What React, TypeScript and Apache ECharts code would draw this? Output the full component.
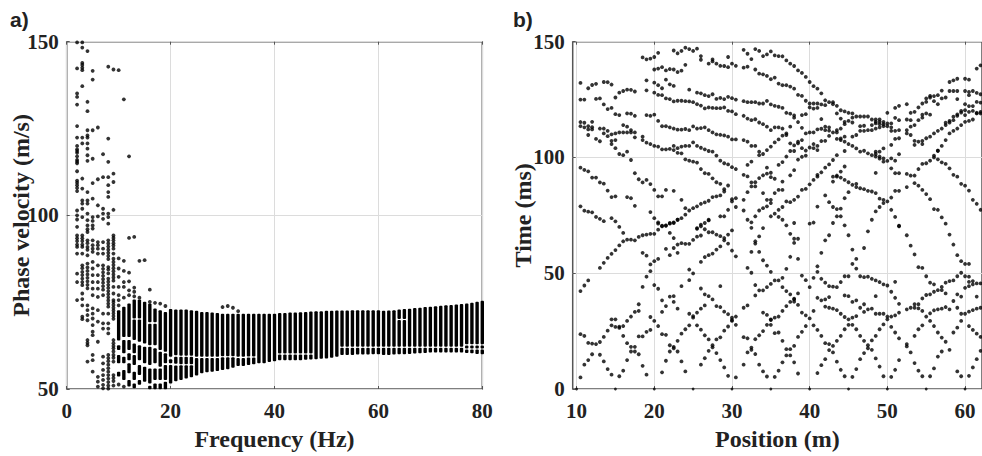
import React, { useEffect, useRef } from "react";
import * as echarts from "echarts";

// ---------- Panel a: sparse phase-velocity picks, one list per frequency (Hz) ----------
const sparse2Hz = [149.8,142.3,135.1,134.1,131.9,125.7,122.4,120,119,118.5,118,117,116,115.5,115,112.7,110,109.4,108.7,107.9,107,101.4,100,98.8,96.7,94.2,93.4,92.6,91.6,90.9,89,83.2,80.8,75.6];
const sparse3Hz = [149.8,148.3,143.9,143.3,142.5,141.8,137.2,122.4,120.7,110.6,107.7,104.3,103.4,101.9,99.5,94.2,93.4,92.6,91.6,90.9,89,85.6,84.8,83.7,82.8,81.8,80.8,79.9,77.5,75.9,74.1,70.8,70.1];
const sparse4Hz = [147.3,132.7,130,124.5,123,122.4,120.7,119.2,117.3,115.7,106.7,104.3,103.4,100.5,98.6,97.1,96,95.2,92.8,92,90.9,90.1,88.5,86.1,85,84,83,82,81,80,79,74.1,72.7,71.3,69.8,64.1,63.3,62.6,57.9];
const sparse5Hz = [141.6,139.1,124.5,116.3,109.3,104.8,99.5,98.4,97.1,96.2,92.8,91.4,90.4,89.5,86.6,84.7,82.8,80.8,78.9,77,73.2,71.7,70.3,68.4,66.5,65.5,59.8,58.3,55];
const sparse6Hz = [125.3,110.4,102.9,99.7,92.3,91.4,90.4,89,85.6,82.8,80.8,78.9,76.5,72.7,69.4,63.6,53.5,52.1,50.7];
const sparse7Hz = [117.6,111,101.9,100.5,99,92.3,90.4,89,85.6,84.6,83.6,82.6,81.6,80.6,79.6,78.6,77,71.7,68.9,67.4,59.3,57.4,55.5,54,52.6,51.2,50.2];
const sparse8Hz = [142.8,122.1,115.4,111,108.7,106.7,105.3,100.5,99.5,97.6,92.8,91.9,91,90.1,89.2,88.3,87.4,85.1,84.4,83.3,81.8,80.9,80,79.1,78.2,77.3,76.4,75.5,74.6,73.7,71.7,68.9,67.4,66,59.8,58.9,58,57,56,55,54,53,52,51,50.1];
const sparse9Hz = [142,112,109.6,101.6,94.2,93.5,92.8,92,91.3,90.4,89,87.5,86.6,85.7,84.8,83.9,83,82.1,81.2,79.4,77.5,75.6,75,74.2,73.4,72.6,71.8,71,70.2,64.1,63.2,62.4,61.7,60.8,59.8,59,57.9,54,53.2,52.3,51];
const sparse10Hz = [141.8,87.6,84.7,82.3,79.4,77,75.6,74.1,51.3];
const sparse11Hz = [133.4,86.9,84,80.8,79.4,76.3,50.7];
const sparse12Hz = [117,93.5,83.5,81,78.4,77];
const sparse13Hz = [93.8,79.2,78,76.7];
const sparse14Hz = [86.9,76.3];
const sparse15Hz = [87.1];
const sparse16Hz = [78.6,75.1];
const sparse17Hz = [74.8];
const sparse18Hz = [74.6];
const sparse19Hz = [73.9];
const sparse30Hz = [73.6];
const sparse31Hz = [73.9];
const sparse32Hz = [73.4];
const sparse33Hz = [72.4];

// ---------- Panel a: solid pick bands, 10-21 Hz read column by column: [Hz, low, high] ----------
const lowBandColumns = [
  [10,64,72.7],[10,61.2,62.6],[10,57.4,59.8],[10,53.6,55],
  [11,65,73.7],[11,60.3,64.1],[11,57.4,59.3],[11,52.6,55.5],
  [12,65,74.6],[12,61.2,64.1],[12,58.3,60.3],[12,54.5,57.4],[12,50.7,52.6],
  [13,70.3,75.8],[13,64.1,70],[13,60.3,63.1],[13,56.9,59.8],[13,52.6,55],[13,50.2,51.6],
  [14,70.3,75.8],[14,63.6,70],[14,58.3,62.6],[14,54,56.9],[14,51.2,52.6],
  [15,63.1,75.1],[15,57.4,62.2],[15,52.1,56.4],
  [16,69.2,74.6],[16,62.6,68.8],[16,56.9,62.2],[16,51.6,55.9],[16,49.9,50.9],
  [17,69.2,73.2],[17,62.6,68.8],[17,57.4,61.7],[17,52.6,55.9],[17,49.9,51.6],
  [18,61.2,72.7],[18,56.4,60.7],[18,52.6,55.9],[18,49.9,51.6],
  [19,60.7,72.2],[19,57.4,60.3],[19,52.6,56.9],[19,49.9,52.1],
  [20,59.3,73],[20,57.4,58.6],[20,51.6,56.9],
  [21,59.7,72.9],[21,57.3,59.3],[21,52.2,56.8],
];

// ---------- Panel a: solid pick bands, 22-80 Hz ----------
const bandFrequency = [22,23,24,25,26,27,28,29,30,31,32,33,34,35,36,37,38,39,40,41,42,43,44,45,46,47,48,49,50,51,52,53,54,55,56,57,58,59,60,61,62,63,64,65,66,67,68,69,70,71,72,73,74,75,76,77,78,79,80];
const bandTop = [72.9,72.9,72.7,72.5,72.2,72.2,72,71.9,71.7,71.7,71.7,71.7,71.7,71.7,71.7,71.7,71.7,71.7,71.7,71.9,71.9,72,72,72.1,72.2,72.3,72.4,72.4,72.5,72.5,72.6,72.6,72.6,72.7,72.7,72.7,72.7,72.7,72.7,72.5,72.6,72.7,72.9,73,73.1,73.3,73.4,73.6,73.7,73.8,74,74.1,74.2,74.3,74.5,74.6,74.8,75.1,75.4];
const bandBottom = [52.6,53,53.4,53.9,54.5,54.8,55,55.2,55.5,55.7,56.1,56.6,56.6,56.9,57.1,57.4,57.4,57.8,58,58.3,58.3,58.3,58.3,58.3,58.4,58.5,58.6,58.7,58.8,59,59.3,59.8,59.8,59.8,59.9,59.9,59.9,60,60,59.8,59.8,59.9,60,60,60.1,60.2,60.3,60.4,60.5,60.5,60.5,60.5,60.5,60.5,60.5,60.4,60.3,60.1,60];
// thin white breaks in the band: [Hz, velocity]
const bandBreaks = [
  [22,59.4],[22,57],[23,59.4],[23,57],[24,59.4],[24,57],[25,59.1],[26,59.1],[27,59.1],[28,59.1],[29,59.1],[30,59.3],[31,59.3],[32,59.3],[33,59.1],[34,59.1],[35,59.2],[36,59.2],
  [41,60.1],[42,60.1],[43,60.1],[44,60.1],[45,60.1],[46,60.1],[47,60.1],
  [53,62],[54,62],[55,62],[56,62],[57,62],[58,62],[59,62],[60,62],[61,62],[62,62],[63,62],[64,70],[64,62],[65,70],[65,62],[66,62],[67,62],[68,62],[69,62],[70,62],[71,62],[72,62],[73,62],[74,62],[75,62],[76,62],
  [77,61.5],[77,62.7],[78,61.5],[78,62.7],[79,61.5],[79,62.7],[80,61.5],[80,62.7],
];

// ---------- Panel b: travel-time picks, [position m, time ms] ----------
const picksTopLeft = [
  [10.5,132.2],[10.5,125],[11,125],[11.5,129.9],[12,131.3],[12.5,131.8],[13.5,132.6],[14,132.5],[14.5,131.5],[15,125.9],[15.5,128],[16,128.7],[16.5,129.3],[17,129.2],[17.5,128.5],
  [12.5,125.3],[13,125.5],[13.5,122.9],[14,120.9],[14.5,121.4],[15,118.7],[15.5,118.3],[16.5,119],[17,118.9],[17.5,118],
  [10.5,115.3],[10.5,113.5],[11,115],[11,113],[11.5,113.5],[11.5,112.1],[11.5,109.7],[12,115.4],[12,113.1],[12,112.1],[12.5,108],[13,112.5],[13,107],[13.5,112.5],[13.5,110.4],[14,111.5],[14,109.2],[14.5,110],[14.5,107.2],[14.5,105.8],[15,110.4],[15,107.5],[15,104],[15.5,110.8],[15.5,101.5],[16,114],[16,110.8],[16,101],[16.5,113.3],[16.5,110.8],[16.5,102.5],[17,111.8],[17,110.8],[17,98.9],[17.5,110.8],[17.5,108.7],
  [18.5,109],[18.5,107.5],[19,106.4],[19.5,105.8],[20,105],[20.5,104.7],[21,103.5],[21.5,103.5],[22,103.7],[22.5,105],[22.5,103.2],[23,104],[23,102],[23.5,104.7],[23.5,101.8],[24,105],[24.5,105],[25,106.5],[25.5,105],[26,104.2],[26.5,103.5],[27,102.8],[27.5,102.5],[28,100.8],[28.5,98.6],[29,97.5],[29.5,97],[30,95.8],[30.5,95],
  [24,99.2],[24.5,98.6],[25,98.2],[25.5,97.8],[26,95],[26.5,93.2],[27,92.9],[27.5,91],[28,89.3],[28.5,88.6],[29.5,87.9],
  [20.5,115.8],[21,113.5],[21.5,113.5],[22,113],[22.5,112.5],[23,112],[23.5,112],[24,112.3],[24.5,111.8],[25,113.4],[25.5,112.5],[26,112.7],[26.5,113],[27,111.8],[27.5,110.8],[28,110],[28.5,109.8],[29,109.5],[29.5,109],[30,107.8],[30.5,107.8],
  [19,118.3],[19.5,118],[20,118.5],[19,133.3],[19,129],[20,132.3],[20.5,131.2],[21,129.9],[20,128],[20.5,127],[21,126.9],[21.5,125.5],[22,125.2],[22.5,124.2],[23,124.5],[23.5,124.5],[24,124.3],[24.5,124.2],[25,123.9],[25.5,123],[26,122.4],[26.5,121.2],[27,121.6],[27.5,121.4],[28,121.3],[28.5,121.3],[29,121.6],[29.5,120.1],[30,119.9],[30.5,118.7],
  [21.5,133.6],[22,131.6],[22.5,130.9],[24.5,129.3],[25.5,128],[26,127.7],[26.5,126.9],[27,126.5],[27.5,127.3],[28,125.3],[28.5,125.7],[29,125.2],[29.5,126.2],[30,125.6],[30.5,125],
  [18.5,143.2],[19,142.4],[19.5,142.7],[20,143.4],[20.5,145.2],[20,138],[20.5,138.4],[21,139],[21.5,137.6],[22,138.2],[22.5,138],[23,136.9],[23.5,137.5],[24,140],
  [22.5,146.2],[23,145],[23.5,146],[24,147.4],[24.5,146.8],[25,146],[25.5,147],[26,143.8],[26,142.2],[27,140.5],[27.5,142.4],[27.5,141.5],[28,140.5],[28.5,139.6],[29,139.5],[29.5,143.4],[29.5,139],[30,140.5],[30.5,139.6],
  [10.5,95.6],[11,94.6],[11.5,94],[12,91.3],[12.5,91.3],[13,89.2],[13.5,88.7],[14,85.7],[14.5,82.9],[15,83.2],[16.5,82.9],[17,82.4],[17.5,79.1],[17.5,93.2],[18,90.6],[18.5,89.2],[19,90.3],[19.5,88.5],[20,86],[20.5,83.2],[21,83.2],[21.5,86],[22.5,85.6],[23.5,81.7],
  [10.5,78.9],[11,77],[11.5,76.6],[12,76.3],[12.5,74.3],[13,73.5],[13.5,72.5],[14.5,73.8],[15,72.4],[15.5,70],
  [19.5,76.4],[20,73.8],[20.5,71.4],[21,70.3],[21.5,70.7],[22,71.7],[22.5,72],[23,73.1],[23.5,73.8],[24,75.3],[24,78.1],[24.5,77.1],[25,78.1],[25.5,78.9],[26,80],[26.5,80.6],[27,81.3],[27.5,82.9],[28,83.2],[28.5,83.6],[29,85.3],[29,86.3],[30,82],[30,81],[30.5,82.4],[30.5,78.6],[29.5,77.4],[29,74.6],[28.5,74.6],[27,73.1],[26.5,71.7],[26,70.3],[25.5,69.5],
];
const picksTopRight = [
  [31.5,146.5],[32,144.8],[32.5,142.5],[33,146.8],[33.5,146],[34,143.8],[34.5,144.5],[35,145.8],[35.5,144.1],[36,143.8],[36.5,143.7],[37,141.9],[37.5,140.5],[38,139.5],[38.5,137.6],[39,136.5],[39.5,134.8],[40,132.6],[40.5,130.8],[41,129.7],[41.5,127.7],
  [31.5,138.8],[32,139.2],[33,138],[33.5,136.2],[34,135.9],[34.5,135.2],[35,133.8],[35.5,134.5],[36,131.9],[36.5,131.2],[37,131.2],[37.5,130.6],[38,129.7],[38.5,127],[39,126.6],[39.5,124.5],[40,123.3],[40.5,123.3],[41,123.3],[41.5,122.9],[42,122.6],[42,124.7],[42.5,123.9],[43,123.9],[43,123],[43.5,122.3],[44,120.4],[44.5,119.9],[45,119.3],[45.5,119],[46,117.7],[46.5,117.7],[47,117.7],[47.5,117.7],[48,116.4],[48.5,116.4],[48.5,115.4],[48.5,114.7],[49,116.4],[49,115.4],[49,114.4],[49.5,115.4],[49.5,114.4],[50,114.7],[50,113.5],[50,119.3],
  [31.5,124.3],[32,123.9],[32.5,123.9],[33,123.9],[33.5,123.3],[34,123.3],[34.5,124.4],[35,122.9],[35.5,122.3],[36,121.9],[36.5,121.4],[37,119.3],[37.5,118.9],[38,118.2],[38,117.2],[38.5,115.3],[39,118.3],[39.5,118.7],[40,121.6],[40.5,121.1],[41,121.4],[41.5,116.6],
  [31.5,118],[32,116.8],[32.5,116.1],[33,116.5],[33.5,115.1],[34,114.4],[34.5,113.3],[35,111.8],[35.5,113],[36,113],[36.5,112.5],[37.5,113.3],
  [39,112.8],[39.5,110.4],[40,110.8],[40.5,110.8],[41,112.1],[41.5,112.4],[42,113.3],[42,111.8],[42.5,113],[42.5,111.6],[43,110.8],[43.5,111.8],[43.5,110.8],[44,112.5],[44.5,114.4],[45,115.8],[45.5,117.2],[43.5,119],[44,116.8],[44.5,115.4],[45.5,115.1],
  [46.5,113.5],[47,113.7],[46.5,111.5],[47,111.5],[47.5,111.8],[48,111.8],[48,114],[48.5,112.5],[49,113],[49.5,113.5],[50.5,114.7],[51,117.1],[51,121.4],[51.5,122.3],[52.5,123],[51.5,116.1],[52.5,116.4],[53,116.1],[50.5,113],[50.5,111.5],[51,111.5],[51.5,111.8],
  [37,109.7],[36.5,109.4],[37,110.4],[36,107.8],[35.5,106.5],[35,104.7],[34.5,103.2],[34,101.5],[33.5,101],[33.5,102.5],[33,105],[32.5,105],[32,106.8],[31.5,107.5],
  [37.5,106.1],[38,105.2],[38.5,106.1],[39,107.5],[38,102.8],[37.5,102.8],[38.5,106.8],[39,104],[39.5,103],[40,104.3],[40.5,105.8],[41,105],[40.5,104],[41,103.2],[39.5,100.8],[41.5,107.1],[42,107.2],
  [42.5,109.3],[43.5,108],[44,108.2],[44.5,109],[45.5,109],[46,109.7],[44,107.5],[44.5,106.8],[45,105.8],[45.5,105],[46,103.9],[46.5,102.5],[47,102.9],[47.5,101.8],[48,101],[48.5,101.5],[48.5,100.4],[49,100.4],[49,99.5],[49.5,99.6],[49.5,98.2],[50,98.5],[50.5,99.6],[51,98.6],[51.5,101.4],[49.5,103.9],[49,102.5],[48.5,102.5],[50.5,105.4],[51,108],[51.5,108.3],[52.5,111.8],[53,113.3],[53.5,114],[54,116.1],[54.5,117.2],[55.5,118.5],[55,119],[54.5,118.5],
  [52.5,110.4],[53,109.7],[53.5,107.2],[53.5,105.4],[54,106.8],[54.5,107.2],[54.5,105.8],[55,108.3],[55.5,109],[56,110.4],[56.5,111.5],[57,112.5],[57.5,114],[58,115.1],[58.5,116.1],[59,118],[59.5,119.4],[60,118.3],[60.5,115.8],[61,116.4],
  [57.5,115],[58,115.8],[58.5,117.6],[59,118.6],[59.5,120.1],[60,120.4],[60.5,119.7],[61,120.1],[61.5,119.3],[62,119.7],
  [58,110.4],[58.5,111.5],[59,112.5],[59.5,114],[60,115.4],[57,105],[57.5,107.5],[56.5,102.9],
  [53,119.3],[53.5,119.7],[54,121.6],[54.5,123.3],[55,124],[55.5,125.9],[56,126.5],[56.5,126.9],[57,128.9],[55,125.5],[55.5,126.6],[56,124.3],[56.5,123],[57,125.5],[57.5,125.9],[58,132.6],[58.5,133.3],[59,134],
  [58,128.7],[58.5,128.7],[59,128.7],[59,125.2],[60,134],[60.5,133.6],[61.5,138.4],[62,139.8],
  [60,128.7],[60.5,128.3],[60.5,126.9],[61,128.7],[61.5,127.9],[62,127.3],[60,123],[60.5,122.2],[61,122.2],[61.5,124],[62,123.7],[61.5,119],[62,119],
  [32,96.8],[32.5,98.2],[31.5,92.5],[32,91.8],[32.5,89.2],[33,89.3],[32.5,87.5],[33,87.5],[33.5,91.1],[34,92.3],[34.5,93],[35,93.4],[34.5,95.6],[35,91.5],[35.5,90.8],[36.5,89.6],[36,96.8],[36.5,98],[37,100.4],[38.5,99.1],[37.5,92.3],[38,94.5],[39,100.3],
  [31.5,81.7],[32,85],[31.5,77.1],[34,84.6],[35.5,84.6],[36,86],[36.5,86],[35,81.7],[35,80.3],[34.5,81.7],[34.5,78.9],[34,78.1],[33.5,77.1],[33,74.6],[32.5,72],[32,73.1],[37,81],[37.5,80.7],[38,81.7],[38.5,83.1],[39,86],[39.5,86.4],[40,88.4],[40.5,90.3],[41,92.5],[41,91.7],[41.5,93.6],[42,95.6],[42.5,97],[43,98.9],[43.5,101],[44.5,102.8],[44.5,96.1],[44,93.9],[43.5,92.2],[43,91.7],[43,89.6],[43.5,91.7],[44,91.3],[44.5,90.3],[45,89.3],[45.5,88.2],[46,88.6],[46,87.2],[46.5,86.7],[47,86.3],[47.5,85.6],[48,85.3],[48.5,84.6],[49,82.2],[49.5,81.7],[49.5,80.3],[50,81],[50.5,82.7],[51,85.6],[51.5,85.6],[52.5,87.2],[53.5,88.9],[54,87.8],[54.5,86],[55,84.2],[55.5,82],[56,77.7],[56.5,77.4],[57,74.1],[57.5,71.4],
  [35,74.6],[35.5,75.7],[36,77.4],[36.5,78.6],[36,74.3],[36.5,73.1],[37,70.7],[38,71.7],[40,71.4],[40.5,71.9],[43,71.7],[43.5,74.6],[44,74.6],[44.5,70.7],[41,78.8],[42,83.6],[42.5,80.7],[43,78.6],[43.5,77.7],[44,77.9],[45,85],[44.5,82.4],[48.5,76.7],[49,78.6],[48,73.1],[50.5,77.4],[51,74.3],[51.5,70.3],
  [48.5,93.3],[50.5,95.3],[51,93.2],[51.5,93.2],[52.5,92.9],[53,92.2],[53.5,92.2],[54,95],[54.5,97.2],[55,97.5],[55.5,98.6],[56,100.8],[56.5,102.9],[56,100],[56.5,99.2],[57,97.9],[57.5,97.2],[58,95.3],[58.5,92.5],[59,91.7],[59.5,88.6],[60,87.8],[60.5,85.7],[61,81.7],[61.5,80],[62,77.4],[32.5,69.6],[34,69.5],
];
const picksBottomLeft = [
  [16,67.4],[13,52.3],[13.5,54.5],[14,56.6],[14.5,58.4],[15,60],[15.5,62],[16,63.8],[16.5,64.5],[17,64.5],[17.5,64.2],[18,65.7],[18.5,66.4],[19,66.7],[19.5,67],[20,67],[20.5,68.8],[21,70.5],[21.5,70.5],[22,71.4],[22.5,71.7],[23,73.1],
  [20.5,72],[22,67.4],[22.5,65.2],[21.5,60.5],[22,57.8],[22.5,60.9],[23,58.8],[23,62.4],[23.5,63],[24,62.7],[24.5,62.7],[25,64.4],[25.5,65.8],[26,66.3],[25.5,69.2],[26,71],[26.5,69],[27,72.8],[27,67.7],[27.5,67.7],[28,66.7],[28.5,66],[29,64.2],[29,65.2],[29.5,62.8],[29.5,66.7],[30,68.5],[30,59.8],[30.5,57.3],
  [26,54.9],[26.5,57],[27,57.8],[27.5,58.5],[28,60.2],[28.5,61.6],
  [18.5,58.8],[19,57.6],[20.5,56.2],[20,55.2],[19.5,53.8],[19.5,50.9],[19,48.5],[18.5,44.1],[20,44.9],[20.5,43.3],[10.5,42.3],[11,44.7],[11.5,46.9],
  [24.5,51.6],[25,49.9],[24.5,47],[23.5,44.4],[28.5,44.4],[26,43.4],
  [26.5,40.9],[27,40.1],[27.5,38.7],[28,35.8],[28.5,35.4],[29,33.4],[29.5,32.3],[30,30.8],[30,29.8],[30.5,31.3],[30.5,27.7],
  [21,38.3],[21.5,35.8],[22,39.9],[22.5,40.1],[22.5,37.6],[23,34.7],[21,33.3],
  [18,36.6],[18,33.7],[17.5,33.3],[17,31.3],[16.5,29.4],[16,27.2],[15.5,26.9],[15.5,26.4],[15,26.8],[14.5,27.5],[15,30.1],[14.5,30.1],[14,25.2],[13.5,22.5],[13,20.3],[12.5,19.4],[12,19.6],[11.5,19.9],[11,22.9],[10.5,23.7],
  [10.5,5],[11,10.5],[11.5,12.5],[12,15],[13,14.8],[13.5,11.9],[14,8.6],[14.5,6.2],[15.5,5.5],[16,7.9],[16.5,12.5],[17,18.2],[17.5,18.2],[17.5,16.2],[17,16.2],[18,15],[16.5,19.8],[16,22.9],[18,22.7],[18.5,22.7],[19,24.7],[19.5,25.5],[19.5,31.1],[20,29.4],[20.5,27.2],[21,23.7],[21.5,23.4],[21.5,12.2],[21,7.2],[18.5,10],[19,6.2],
  [22,18.9],[22.5,18.2],[22.5,17.6],[22,16.2],[23,16.2],[23,20.8],[23.5,23.9],[24,25.8],[24.5,27.5],[25,31.5],[25,30.8],[24.5,32.5],[25.5,33],[26,34.7],[26.5,36.1],[25.5,27.5],[26,25.6],[26.5,23.2],[27,21.4],[27.5,18.9],[27.5,18],[27,16.5],[28,21.4],[28.5,22.3],[29,25.2],[29.5,27],[30,29.4],[26.5,13.3],[26,10.5],[23.5,11.9],[24,7.6],[28,15.5],[28.5,12.5],[29,9.3],[29.5,5.7],[30.5,5],
];
const picksBottomRight = [
  [33,63.8],[33,62.8],[33.5,65.9],[32.5,59.2],[33.5,59.2],[34,55.6],[34.5,53.3],[35,50.6],[32,52.3],[32.5,50.2],[33,44.9],[33.5,42.6],[34,42.6],[34.5,44],[35,45.4],[35.5,46.9],[36,46.9],[36.5,48],[37,51.9],[36.5,44],[37,42.3],[37.5,40.9],[38,38.7],[38.5,41.3],[39,49],[39.5,47],[40,44],[40.5,48],[41,53],[41,50.6],[41.5,47.6],[42,45.9],[42.5,44.4],[43,44.2],[43.5,44],[44,46.2],[44.5,48.7],[45,48.7],[46.5,48.7],[47,48.3],[47.5,48.5],[48,47.6],[48.5,46.9],[49,46.2],[49.5,45.2],[50,44.7],[51,46.3],[50.5,42],[51,39.4],[51.5,36.8],[45.5,60.2],[46,56.2],[45.5,54],[46,52],[47,60.9],[47.5,68.1],[45,66.4],[42.5,66.4],[42,64.2],[41.5,58.8],
  [37.5,67],[38,64.9],[38,63.1],[38.5,64.9],[37.5,57.1],[38.5,56.2],
  [33,40.4],[31.5,35.1],[32,36.1],[34,33],[34.5,32],[35,30.1],[35.5,30.8],[36,31.3],[36.5,33.7],[37,35.8],[37.5,37.6],[38,39],[38,37.7],[38.5,36.3],[39,33],[39.5,31.8],[40,30.5],[40.5,33.7],[41,39.4],[41.5,38.3],[42,38.7],[42.5,39.7],[42,35.6],[42.5,35.1],[43,34.7],[43.5,34.1],[44,32.5],[44.5,31.1],[45,30.1],[45.5,30.8],[46,31.5],[46.5,35.1],[47,33.3],[47.5,34.4],[48,34.7],[48.5,32.5],[49,32.5],[49.5,32.5],[50,31.3],[50,30.1],[50.5,31.3],[51,31.8],[51.5,33],[52.5,34.4],[53,35.1],[53.5,36.6],[53.5,35.1],[54,36.6],[54,34.8],[54.5,33.7],[55,31.3],[55.5,32.7],[56,34],[56.5,34.4],[57,34.7],[57.5,35.4],[58,34.4],[58.5,38],[59,35.1],[59.5,32.5],[60,32.5],[60.5,33.4],[61,34.1],[61.5,34.7],[62,35.1],
  [44.5,40.4],[45,40.1],[45.5,37.6],[46,38.3],[47,36.6],[48.5,40.1],[54.5,39.1],[55,40.6],[55.5,40.9],[56,42],[56.5,42.7],[57,42.7],[57,44.1],[57.5,41.3],[58,46.6],[57.5,45.9],[58.5,46.9],[59,48.7],[59.5,50.2],[60,54],[60.5,54],[59.5,55.2],[59,57.8],[58.5,62.4],[58,66.7],
  [60,48.7],[60.5,48.5],[60.5,46.3],[61,46.6],[61.5,45.6],[61.5,39.9],[62,45.6],[60,43.7],[60.5,44.4],[61,45.2],[59.5,39.9],[59,40.9],
  [55.5,45.9],[56,45.2],[55,48.7],[54.5,52.3],[54,52.6],[53.5,58.1],[53,61.9],[52.5,66.4],[51.5,70.5],
  [31.5,22.4],[32,21.9],[33,21.5],[33.5,23.2],[34,25],[34.5,27.7],[35,27.7],[35,29.8],[35.5,24.1],[36,24.4],[36.5,20.8],[37,17.2],[37.5,17.2],[38,18.6],[38.5,22.5],[39,24.7],[39.5,27.2],[40.5,27.5],[41,25.5],[41.5,22.9],[42,19.8],[42.5,19.4],[43,18.6],[42.5,16.8],[43,15.8],[43.5,20.8],[44,22.9],[44.5,25.8],[45,27.7],[45.5,27.7],[46,25.8],[46.5,22.9],[47,20.8],[47.5,18.9],[47.5,17.6],[48,21],[48.5,22.9],[49,25.8],[49.5,27.9],[50.5,26.8],[51,24.4],[51.5,21.9],[52.5,19.4],[52.5,18.4],[53,15.8],[53.5,22.9],[54,25.8],[54.5,27.5],[55.5,29.4],[56,27.2],[56.5,24.4],[57,22.2],[57.5,20.4],[58,16.9],[58.5,24.4],[59,26.5],[59.5,29.4],[60.5,27.2],[61,25.5],[61.5,23.9],[62,22.5],[57,16.2],[56.5,14],[62,16.5],[61.5,12.9],[61,9.3],[60.5,5.7],[59.5,5.5],[59,7.6],
  [31.5,10.5],[32.5,17.9],[32.5,16.9],[33,15.1],[32,15.8],[33.5,10.5],[34,7.6],[34.5,5.4],[35.5,5.2],[36,7.9],[36.5,11.5],[37,14.5],[37.5,14.5],[38,11.5],[38.5,6.7],[41,6.9],[41.5,10.3],[42,12.9],[43.5,11.8],[44,8.3],[44.5,5.5],[45.5,5.2],[46,8.6],[46.5,12.9],[47,15.5],[48,16.9],[48.5,13.2],[49,9.7],[49.5,5.5],[50.5,5.2],[51,8.3],[51.5,12.5],[53.5,11.2],[54,7.9],[54.5,5.5],[55.5,5.5],[56,8.9],
];
const sourcePicks = [[10,0],[15,0],[20,0],[25,0],[30,0],[35,0],[40,0],[45,0],[50,0],[55,0],[60,0]];

const frequencyTicks = [0, 20, 40, 60, 80];
const velocityTicks = [50, 100, 150];
const positionTicks = [10, 20, 30, 40, 50, 60];
const timeTicks = [0, 50, 100, 150];

const sparseColumns: [number, number[]][] = [
  [2,sparse2Hz],[3,sparse3Hz],[4,sparse4Hz],[5,sparse5Hz],[6,sparse6Hz],[7,sparse7Hz],[8,sparse8Hz],[9,sparse9Hz],[10,sparse10Hz],[11,sparse11Hz],[12,sparse12Hz],[13,sparse13Hz],[14,sparse14Hz],[15,sparse15Hz],[16,sparse16Hz],[17,sparse17Hz],[18,sparse18Hz],[19,sparse19Hz],[30,sparse30Hz],[31,sparse31Hz],[32,sparse32Hz],[33,sparse33Hz],
];

function bandSegments(): number[][] {
  const out: number[][] = [...lowBandColumns];
  bandFrequency.forEach((f, i) => {
    const cuts = bandBreaks.filter((b) => b[0] === f).map((b) => b[1]).sort((p, q) => p - q);
    let low = bandBottom[i];
    cuts.forEach((c) => {
      out.push([f, low, c - 0.15]);
      low = c + 0.15;
    });
    out.push([f, low, bandTop[i]]);
  });
  return out;
}

const SERIF = '"Liberation Serif", "Times New Roman", serif';
const SANS = '"Liberation Sans", Arial, sans-serif';
const AXIS_COLOR = "#555";
const GRID_COLOR = "#dcdcdc";

function axisBase(name: string, ticks: number[], nameGap: number, labelMargin: number) {
  return {
    type: "value" as const,
    name,
    nameLocation: "middle" as const,
    nameGap,
    nameMoveOverlap: false,
    nameTextStyle: { fontFamily: SERIF, fontWeight: "bold" as const, fontSize: 24, color: "#222" },
    axisLine: { show: false },
    axisTick: { show: true, inside: true, length: 3, customValues: ticks, lineStyle: { color: AXIS_COLOR } },
    axisLabel: { customValues: ticks, fontFamily: SERIF, fontWeight: "bold" as const, fontSize: 21, color: "#222", margin: labelMargin },
    splitLine: { show: true, lineStyle: { color: GRID_COLOR, width: 1 } },
  };
}

function topAxis(gridIndex: number, min: number, max: number, ticks: number[]) {
  return {
    type: "value" as const,
    gridIndex,
    position: "top" as const,
    min,
    max,
    axisLine: { show: false },
    axisTick: { show: true, inside: true, length: 3, customValues: ticks, lineStyle: { color: AXIS_COLOR } },
    axisLabel: { show: false },
    splitLine: { show: false },
  };
}

export default function App() {
  const ref = useRef<HTMLDivElement>(null);
  useEffect(() => {
    const chart = echarts.init(ref.current!, undefined, { renderer: "svg" });
    const sparsePoints = sparseColumns.flatMap(([f, vs]) => vs.map((v) => [f, v]));
    const gridBorder = { show: true, borderColor: AXIS_COLOR, borderWidth: 1.5, backgroundColor: "transparent" };
    chart.setOption({
      animation: false,
      backgroundColor: "#fff",
      grid: [
        { left: 66.7, top: 41.7, width: 415.6, height: 348.3, ...gridBorder },
        { left: 572.7, top: 41.7, width: 409.3, height: 348.3, ...gridBorder },
      ],
      xAxis: [
        { ...axisBase("Frequency (Hz)", frequencyTicks, 38, 11), gridIndex: 0, min: 0, max: 80 },
        { ...axisBase("Position (m)", positionTicks, 38, 11), gridIndex: 1, min: 9.5, max: 62.18 },
        topAxis(0, 0, 80, frequencyTicks),
        topAxis(1, 9.5, 62.18, positionTicks),
      ],
      yAxis: [
        { ...axisBase("Phase velocity (m/s)", velocityTicks, 34, 8), gridIndex: 0, min: 50, max: 150 },
        { ...axisBase("Time (ms)", timeTicks, 38, 8), gridIndex: 1, min: 0, max: 150 },
      ],
      graphic: [
        { type: "text", left: 10, top: 9, style: { text: "a)", fontFamily: SANS, fontWeight: "bold", fontSize: 21, fill: "#222" } },
        { type: "text", left: 513, top: 9, style: { text: "b)", fontFamily: SANS, fontWeight: "bold", fontSize: 21, fill: "#222" } },
      ],
      series: [
        {
          type: "custom",
          xAxisIndex: 0,
          yAxisIndex: 0,
          clip: false,
          data: bandSegments(),
          encode: { x: 0, y: [1, 2] },
          renderItem: (_params: any, api: any) => {
            const bottom = api.coord([api.value(0), api.value(1)]);
            const top = api.coord([api.value(0), api.value(2)]);
            return {
              type: "rect",
              shape: { x: bottom[0] - 1.7, y: top[1], width: 3.4, height: bottom[1] - top[1], r: 1 },
              style: { fill: "#000" },
            };
          },
        },
        { type: "scatter", xAxisIndex: 0, yAxisIndex: 0, symbolSize: 3.8, clip: false, itemStyle: { color: "#000" }, data: sparsePoints },
        { type: "scatter", xAxisIndex: 1, yAxisIndex: 1, symbolSize: 3.8, itemStyle: { color: "#000" }, data: [...picksTopLeft, ...picksTopRight, ...picksBottomLeft, ...picksBottomRight] },
        { type: "scatter", xAxisIndex: 1, yAxisIndex: 1, symbolSize: 2.8, clip: false, itemStyle: { color: "#000" }, data: sourcePicks },
      ],
    });
    return () => chart.dispose();
  }, []);
  return <div ref={ref} style={{ position: "absolute", left: 0, top: 0, width: 982, height: 456 }} />;
}
